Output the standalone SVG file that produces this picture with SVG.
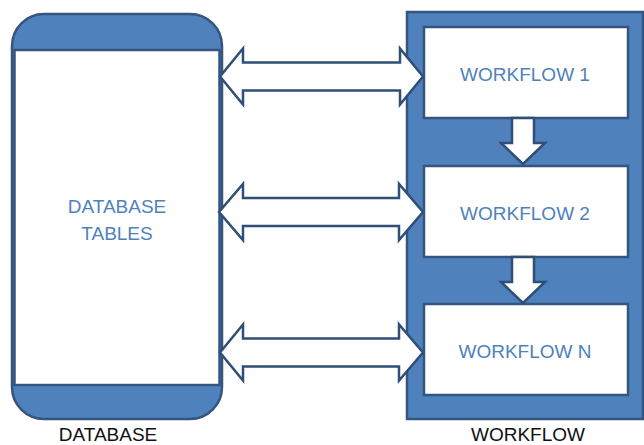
<svg xmlns="http://www.w3.org/2000/svg" width="644" height="445" viewBox="0 0 644 445">
  <style>
    .band { fill: #4f81bd; stroke: #34557f; stroke-width: 2.5; }
    .panel { fill: #ffffff; stroke: #34557f; stroke-width: 2.5; }
    .arrow { fill: #ffffff; stroke: #2f4f78; stroke-width: 2.5; stroke-linejoin: miter; }
    .inner { font-family: "Liberation Sans", Arial, sans-serif; font-size: 19px; fill: #4f81bd; text-anchor: middle; }
    .caption { font-family: "Liberation Sans", Arial, sans-serif; font-size: 19px; fill: #111111; text-anchor: middle; }
  </style>
  <rect width="644" height="445" fill="#ffffff"/>

  <!-- Database container: blue rounded shell with white content area -->
  <g id="database">
    <rect class="band" x="12" y="14" width="210" height="405" rx="32" ry="32"/>
    <rect class="panel" x="14.5" y="50" width="205" height="335"/>
    <text class="inner" x="117" y="213">DATABASE</text>
    <text class="inner" x="117" y="240">TABLES</text>
  </g>

  <!-- Workflow container -->
  <g id="workflow">
    <rect class="band" x="407" y="12" width="236" height="407"/>
  </g>

  <g id="workflow1">
    <rect class="panel" x="424" y="27" width="204" height="91"/>
    <text class="inner" x="525" y="81">WORKFLOW 1</text>
  </g>
  <g id="workflow2">
    <rect class="panel" x="424" y="166" width="204" height="91"/>
    <text class="inner" x="525" y="220">WORKFLOW 2</text>
  </g>
  <g id="workflowN">
    <rect class="panel" x="424" y="304" width="204" height="91"/>
    <text class="inner" x="525" y="358">WORKFLOW N</text>
  </g>

  <!-- Connectors: block arrows -->
  <g id="connectors">
    <!-- two-way arrows between tables and workflows -->
    <path class="arrow" d="M220,76.5 L243,48.5 L243,62.5 L400,62.5 L400,48.5 L423,76.5 L400,104.5 L400,90.5 L243,90.5 L243,104.5 Z"/>
    <path class="arrow" d="M219,212 L243,184 L243,198 L399,198 L399,184 L423,212 L399,240 L399,226 L243,226 L243,240 Z"/>
    <path class="arrow" d="M220,352.5 L243,324.5 L243,338.5 L399,338.5 L399,324.5 L423,352.5 L399,380.5 L399,366.5 L243,366.5 L243,380.5 Z"/>
    <!-- downward steps between workflows -->
    <path class="arrow" d="M512,118 L512,143 L501,143 L523,164 L545,143 L534,143 L534,118 Z"/>
    <path class="arrow" d="M512,257 L512,282 L501,282 L523,303 L545,282 L534,282 L534,257 Z"/>
  </g>

  <!-- Captions -->
  <text class="caption" x="108" y="441">DATABASE</text>
  <text class="caption" x="528" y="441">WORKFLOW</text>
</svg>
